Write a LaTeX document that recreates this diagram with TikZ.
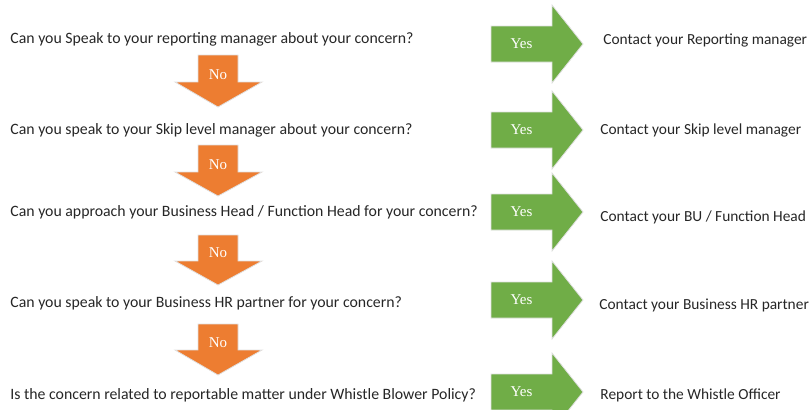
\documentclass[tikz,border=0pt]{standalone}
\usepackage{fontspec}
\setmainfont{Carlito}
\newfontfamily\labelfont{Liberation Serif}
\usetikzlibrary{positioning}
\definecolor{yesgreen}{HTML}{70AD47}
\definecolor{noorange}{HTML}{ED7D31}

\begin{document}
\begin{tikzpicture}[x=1pt, y=-1pt, thick]

	\tikzstyle{quest}=[anchor=west, inner sep=0pt, text=black!85, font=\fontsize{15.8}{18}\selectfont]
	\tikzstyle{answer}=[anchor=west, inner sep=0pt, text=black!85, font=\fontsize{15.4}{18}\selectfont]
	\tikzstyle{yes}=[fill=yesgreen, draw=black!12, line width=0.8pt]
	\tikzstyle{no}=[fill=noorange, draw=black!12, line width=0.8pt]
	\tikzstyle{tag}=[text=white, inner sep=0pt, font=\labelfont\fontsize{15}{17}\selectfont]

	\useasboundingbox (0,0) rectangle (812,410);

		% Questions
		\node[quest] (q1) at (10,39)  {Can you Speak to your reporting manager about your concern?};
		\node[quest] (q2) at (10,130) {Can you speak to your Skip level manager about your concern?};
		\node[quest] (q3) at (10,212) {Can you approach your Business Head / Function Head for your concern?};
		\node[quest] (q4) at (10,303) {Can you speak to your Business HR partner for your concern?};
		\node[quest] (q5) at (10,395) {Is the concern related to reportable matter under Whistle Blower Policy?};

		% Answers
		\node[answer] (a1) at (603,40)  {Contact your Reporting manager};
		\node[answer] (a2) at (600,130) {Contact your Skip level manager};
		\node[answer] (a3) at (600,217) {Contact your BU / Function Head};
		\node[answer] (a4) at (599,305) {Contact your Business HR partner};
		\node[answer] (a5) at (600,395) {Report to the Whistle Officer};

		% Yes arrows
		\draw[yes] (491,26)  -- ++(61,0) -- ++(0,-21) -- ++(31,39) -- ++(-31,39) -- ++(0,-21) -- ++(-61,0) -- cycle;
		\draw[yes] (491,112) -- ++(61,0) -- ++(0,-21) -- ++(31,39) -- ++(-31,39) -- ++(0,-21) -- ++(-61,0) -- cycle;
		\draw[yes] (491,194) -- ++(61,0) -- ++(0,-21) -- ++(31,39) -- ++(-31,39) -- ++(0,-21) -- ++(-61,0) -- cycle;
		\draw[yes] (491,282) -- ++(61,0) -- ++(0,-21) -- ++(31,39) -- ++(-31,39) -- ++(0,-21) -- ++(-61,0) -- cycle;
		\draw[yes] (491,374) -- ++(61,0) -- ++(0,-21) -- ++(31,39) -- ++(-31,39) -- ++(0,-21) -- ++(-61,0) -- cycle;
		\node[tag] (y1) at (521.5,44)  {Yes};
		\node[tag] (y2) at (521.5,130) {Yes};
		\node[tag] (y3) at (521.5,212) {Yes};
		\node[tag] (y4) at (521.5,300) {Yes};
		\node[tag] (y5) at (521.5,392) {Yes};

		% No arrows
		\draw[no] (198,55)  -- ++(40,0) -- ++(0,27) -- ++(24,0) -- ++(-44,25) -- ++(-43,-25) -- ++(23,0) -- cycle;
		\draw[no] (198,145) -- ++(40,0) -- ++(0,27) -- ++(24,0) -- ++(-44,24) -- ++(-43,-24) -- ++(23,0) -- cycle;
		\draw[no] (198,235) -- ++(40,0) -- ++(0,26) -- ++(24,0) -- ++(-44,24) -- ++(-43,-24) -- ++(23,0) -- cycle;
		\draw[no] (198,324) -- ++(40,0) -- ++(0,26) -- ++(24,0) -- ++(-44,25) -- ++(-43,-25) -- ++(23,0) -- cycle;
		\node[tag] (n1) at (218,75)  {No};
		\node[tag] (n2) at (218,165) {No};
		\node[tag] (n3) at (218,253) {No};
		\node[tag] (n4) at (218,343) {No};

\end{tikzpicture}
\end{document}
